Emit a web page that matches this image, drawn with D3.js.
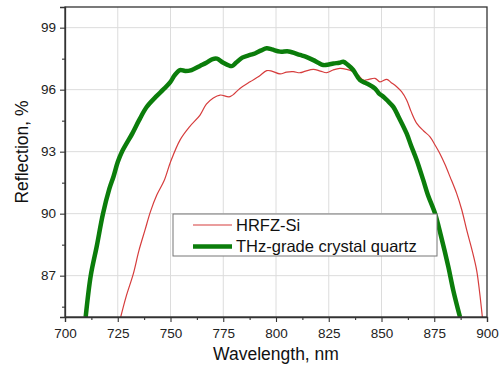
<!DOCTYPE html>
<html>
<head>
<meta charset="utf-8">
<script src="https://cdn.jsdelivr.net/npm/d3@7"></script>
<style>
  html, body { margin: 0; padding: 0; background: #fff; }
  svg { display: block; font-family: "Liberation Sans", Arial, sans-serif; }
</style>
</head>
<body>
<svg id="chart" width="502" height="367"></svg>
<script>
// Reflection spectra: HRFZ-Si and THz-grade crystal quartz
const siWavelength = [726.4, 729, 732.4, 735, 737.9, 740.5, 743.5, 747, 750, 754.5, 759, 764, 767, 770.3, 773.5, 778.2, 782.9, 787.7, 792, 795.6, 798, 801.9, 805, 808.2, 811.4, 814, 817.7, 821, 824, 827, 830.3, 833.5, 836.6, 839, 841.4, 844, 846.9, 849.3, 852.5, 854.5, 857.2, 859.5, 861.9, 864, 866.7, 870, 873, 875.5, 877.7, 880, 882.5, 885.6, 888, 890.4, 893, 895.1, 896.5, 897.8];
const siReflection = [85.0, 86.0, 87.1, 88.2, 89.2, 90.1, 90.9, 91.6, 92.5, 93.56, 94.2, 94.77, 95.3, 95.6, 95.74, 95.66, 96.06, 96.38, 96.65, 96.92, 96.9, 96.76, 96.85, 96.87, 96.82, 96.9, 96.98, 96.9, 96.82, 96.95, 97.03, 96.98, 96.87, 96.7, 96.46, 96.5, 96.55, 96.38, 96.5, 96.35, 96.14, 95.9, 95.5, 94.95, 94.37, 94.0, 93.72, 93.3, 92.9, 92.4, 91.78, 90.98, 90.2, 89.2, 88.2, 87.26, 86.2, 85.0];

const quartzWavelength = [709.8, 712.2, 715, 718, 721, 723, 725, 727, 732, 735, 738.7, 743.5, 746.5, 749.8, 752, 754.5, 757, 760, 764, 767, 770, 772, 775, 779, 781, 784, 787.7, 790, 793, 795.6, 798, 801.9, 806, 811.4, 814, 817.7, 820, 822.4, 825, 827.2, 830, 831.9, 834, 836.6, 839.8, 843, 846.9, 849, 850.9, 853, 855.6, 858, 861.9, 864, 866.7, 869.8, 872, 875.4, 878, 881.7, 884, 887.2];
const quartzReflection = [85.0, 87.0, 88.4, 90.0, 91.2, 91.8, 92.5, 93.0, 93.9, 94.5, 95.16, 95.7, 96.0, 96.35, 96.7, 96.95, 96.9, 96.95, 97.15, 97.3, 97.48, 97.5, 97.3, 97.14, 97.3, 97.55, 97.68, 97.75, 97.9, 98.0, 97.95, 97.84, 97.85, 97.68, 97.6, 97.43, 97.3, 97.19, 97.22, 97.27, 97.3, 97.35, 97.2, 96.95, 96.46, 96.3, 96.06, 95.8, 95.66, 95.45, 95.17, 94.7, 93.88, 93.3, 92.59, 91.62, 90.9, 90.0, 89.0, 87.42, 86.3, 85.0];

const xTicks = [700, 725, 750, 775, 800, 825, 850, 875, 900];
const yTicks = [87, 90, 93, 96, 99];
const seriesNames = ["HRFZ-Si", "THz-grade crystal quartz"];

const svg = d3.select("#chart");
const plot = { left: 65, right: 487, top: 7, bottom: 317 };

const x = d3.scaleLinear().domain([700, 900]).range([plot.left, plot.right]);
const y = d3.scaleLinear().domain([85, 100]).range([plot.bottom, plot.top]);

// grid
const grid = svg.append("g");
grid.selectAll(".gx").data(xTicks.slice(1, -1)).join("line")
  .attr("x1", d => x(d)).attr("x2", d => x(d))
  .attr("y1", plot.top).attr("y2", plot.bottom)
  .attr("stroke", "#dcdcdc").attr("stroke-width", 1);
grid.selectAll(".gy").data(yTicks).join("line")
  .attr("x1", plot.left).attr("x2", plot.right)
  .attr("y1", d => y(d)).attr("y2", d => y(d))
  .attr("stroke", "#dcdcdc").attr("stroke-width", 1);

// data lines clipped to the plot area
svg.append("clipPath").attr("id", "clip").append("rect")
  .attr("x", plot.left).attr("y", plot.top)
  .attr("width", plot.right - plot.left).attr("height", plot.bottom - plot.top);

const line = d3.line().x(d => x(d[0])).y(d => y(d[1])).curve(d3.curveCatmullRom.alpha(0.5));
const siData = siWavelength.map((w, i) => [w, siReflection[i]]);
const quartzData = quartzWavelength.map((w, i) => [w, quartzReflection[i]]);

const lines = svg.append("g").attr("clip-path", "url(#clip)");
lines.append("path").datum(siData).attr("d", line)
  .attr("fill", "none").attr("stroke", "#d63c3c").attr("stroke-width", 1.2);
lines.append("path").datum(quartzData).attr("d", line)
  .attr("fill", "none").attr("stroke", "#0b7d0b").attr("stroke-width", 4.5)
  .attr("stroke-linejoin", "round");

// frame
svg.append("rect")
  .attr("x", plot.left).attr("y", plot.top)
  .attr("width", plot.right - plot.left).attr("height", plot.bottom - plot.top)
  .attr("fill", "none").attr("stroke", "#333").attr("stroke-width", 1.3);

// axes
const xMinor = d3.range(712.5, 900, 25);
const yMinor = d3.range(85.5, 100, 3);

svg.append("g").attr("transform", `translate(0,${plot.bottom})`)
  .call(d3.axisBottom(x).tickValues(xTicks).tickSize(5).tickPadding(6).tickFormat(d3.format("d")));
svg.append("g").attr("transform", `translate(0,${plot.bottom})`)
  .call(d3.axisBottom(x).tickValues(xMinor).tickSize(3).tickFormat(""))
  .call(g => g.select(".domain").remove());

svg.append("g").attr("transform", `translate(${plot.left},0)`)
  .call(d3.axisLeft(y).tickValues(yTicks).tickSize(5).tickPadding(4).tickFormat(d3.format("d")));
svg.append("g").attr("transform", `translate(${plot.left},0)`)
  .call(d3.axisLeft(y).tickValues(yMinor).tickSize(3).tickFormat(""))
  .call(g => g.select(".domain").remove());

svg.selectAll(".domain").attr("stroke", "#333").attr("stroke-width", 1.3);
svg.selectAll(".tick line").attr("stroke", "#333").attr("stroke-width", 1.1);
svg.selectAll(".tick text").attr("font-size", 13.5).attr("fill", "#222")
  .attr("font-family", "Liberation Sans, Arial, sans-serif");

// axis titles
svg.append("text")
  .attr("x", (plot.left + plot.right) / 2).attr("y", 360)
  .attr("text-anchor", "middle").attr("font-size", 17.5).attr("fill", "#111")
  .text("Wavelength, nm");
svg.append("text")
  .attr("transform", "translate(28,152) rotate(-90)")
  .attr("text-anchor", "middle").attr("font-size", 17.5).attr("fill", "#111")
  .text("Reflection, %");

// legend
const legend = svg.append("g");
legend.append("rect")
  .attr("x", 173).attr("y", 214).attr("width", 264).attr("height", 42)
  .attr("fill", "#fff").attr("stroke", "#777").attr("stroke-width", 1);
const legendColors = ["#d63c3c", "#0b7d0b"];
const legendWidths = [1.2, 4.5];
seriesNames.forEach((name, i) => {
  const ly = 225 + i * 21.5;
  legend.append("line")
    .attr("x1", 193).attr("x2", 232).attr("y1", ly).attr("y2", ly)
    .attr("stroke", legendColors[i]).attr("stroke-width", legendWidths[i]);
  legend.append("text")
    .attr("x", 236).attr("y", ly).attr("dy", "0.36em")
    .attr("font-size", 16.5).attr("fill", "#111")
    .text(name);
});
</script>
</body>
</html>
